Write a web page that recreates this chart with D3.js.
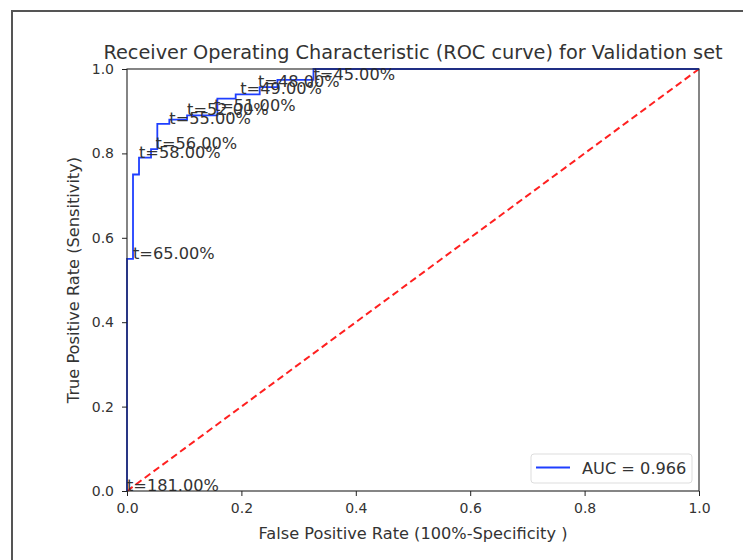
<!DOCTYPE html>
<html>
<head>
<meta charset="utf-8">
<script src="https://cdn.jsdelivr.net/npm/d3@7"></script>
<style>
  html, body { margin: 0; padding: 0; background: #fff; }
  svg text { font-family: "DejaVu Sans", sans-serif; }
</style>
</head>
<body>
<svg id="chart" width="743" height="560"></svg>
<script>
// ROC curve points (false positive rate, true positive rate)
const rocFpr = [0, 0, 0.0105, 0.0105, 0.021, 0.021, 0.042, 0.042, 0.053, 0.053, 0.074, 0.074, 0.105, 0.105, 0.158, 0.158, 0.19, 0.19, 0.232, 0.232, 0.263, 0.263, 0.326, 0.326, 1];
const rocTpr = [0, 0.55, 0.55, 0.75, 0.75, 0.79, 0.79, 0.81, 0.81, 0.87, 0.87, 0.88, 0.88, 0.89, 0.89, 0.93, 0.93, 0.94, 0.94, 0.957, 0.957, 0.974, 0.974, 1, 1];

// Threshold annotations
const labelText = ["t=181.00%", "t=65.00%", "t=58.00%", "t=56.00%", "t=55.00%", "t=52.00%", "t=51.00%", "t=49.00%", "t=48.00%", "t=45.00%"];
const labelFpr = [0, 0.0105, 0.021, 0.05, 0.074, 0.105, 0.152, 0.198, 0.229, 0.326];
const labelTpr = [0, 0.55, 0.79, 0.81, 0.87, 0.89, 0.90, 0.94, 0.957, 0.974];

const diagX = [0, 1];
const diagY = [0, 1];

const ticks = [0, 0.2, 0.4, 0.6, 0.8, 1.0];
const aucLabel = "AUC = 0.966";

const title = "Receiver Operating Characteristic (ROC curve) for Validation set";
const xTitle = "False Positive Rate (100%-Specificity )";
const yTitle = "True Positive Rate (Sensitivity)";

const svg = d3.select("#chart");
const m = {left: 127, right: 699, top: 69, bottom: 491};

// outer frame
svg.append("rect")
  .attr("x", 12).attr("y", 11)
  .attr("width", 800).attr("height", 600)
  .attr("fill", "none").attr("stroke", "#555").attr("stroke-width", 2);

const x = d3.scaleLinear().domain([0, 1]).range([m.left, m.right]);
const y = d3.scaleLinear().domain([0, 1]).range([m.bottom, m.top]);

const g = svg.append("g");

// diagonal
g.append("path")
  .datum(d3.zip(diagX, diagY))
  .attr("d", d3.line().x(d => x(d[0])).y(d => y(d[1])))
  .attr("fill", "none").attr("stroke", "#ff2020").attr("stroke-width", 2)
  .attr("stroke-dasharray", "7,4");

// ROC curve
g.append("path")
  .datum(d3.zip(rocFpr, rocTpr))
  .attr("d", d3.line().x(d => x(d[0])).y(d => y(d[1])))
  .attr("fill", "none").attr("stroke", "#1f3fff").attr("stroke-width", 1.8);

// annotations
g.selectAll("text.lab")
  .data(d3.zip(labelText, labelFpr, labelTpr))
  .join("text").attr("class", "lab")
  .attr("x", d => x(d[1])).attr("y", d => y(d[2]))
  .attr("font-size", 16.2).attr("fill", "#333")
  .text(d => d[0]);

// frame / spines
svg.append("rect")
  .attr("x", m.left).attr("y", m.top)
  .attr("width", m.right - m.left).attr("height", m.bottom - m.top)
  .attr("fill", "none").attr("stroke", "#222").attr("stroke-width", 1.1);

// axes
const xAxis = d3.axisBottom(x).tickValues(ticks).tickSize(5).tickPadding(7).tickFormat(d3.format(".1f"));
const yAxis = d3.axisLeft(y).tickValues(ticks).tickSize(5).tickPadding(8).tickFormat(d3.format(".1f"));
const gx = svg.append("g").attr("transform", `translate(0,${m.bottom})`).call(xAxis);
const gy = svg.append("g").attr("transform", `translate(${m.left},0)`).call(yAxis);
[gx, gy].forEach(a => {
  a.select(".domain").remove();
  a.selectAll("line").attr("stroke", "#222");
  a.selectAll("text").attr("font-size", 14).attr("fill", "#333").style("font-family", "DejaVu Sans, sans-serif");
});

// titles
svg.append("text").attr("x", (m.left + m.right) / 2).attr("y", 59)
  .attr("text-anchor", "middle").attr("font-size", 19.3).attr("fill", "#333").text(title);
svg.append("text").attr("x", (m.left + m.right) / 2).attr("y", 539)
  .attr("text-anchor", "middle").attr("font-size", 16.2).attr("fill", "#333").text(xTitle);
svg.append("text").attr("transform", `translate(79,${(m.top + m.bottom) / 2}) rotate(-90)`)
  .attr("text-anchor", "middle").attr("font-size", 16.2).attr("fill", "#333").text(yTitle);

// legend
const lg = svg.append("g");
lg.append("rect").attr("x", 531).attr("y", 454).attr("width", 161).attr("height", 29)
  .attr("rx", 3).attr("fill", "#fff").attr("stroke", "#ddd").attr("stroke-width", 1);
lg.append("line").attr("x1", 536).attr("x2", 570).attr("y1", 467.5).attr("y2", 467.5)
  .attr("stroke", "#1f3fff").attr("stroke-width", 1.8);
lg.append("text").attr("x", 582).attr("y", 473.5).attr("font-size", 16.2).attr("fill", "#333").text(aucLabel);
</script>
</body>
</html>
